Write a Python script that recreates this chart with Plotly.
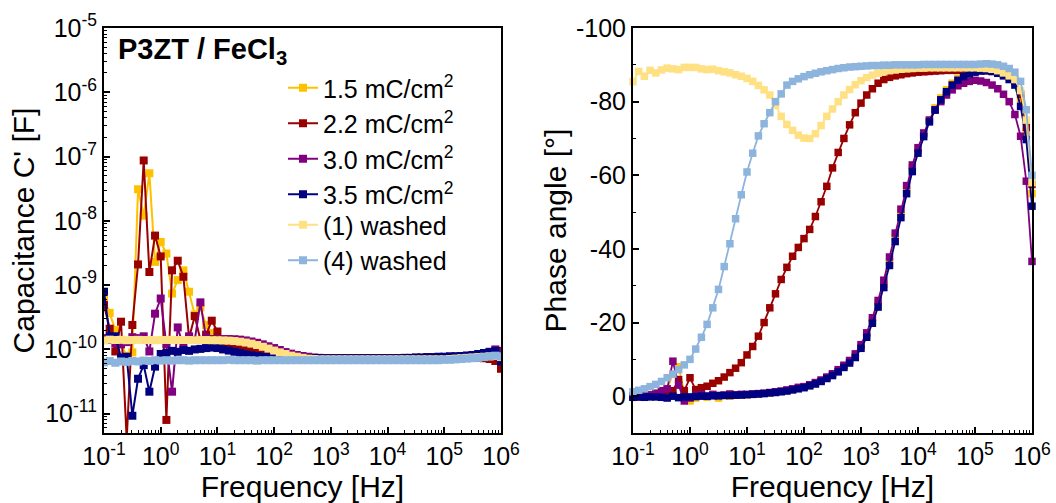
import plotly.graph_objects as go

# ---------------- data ----------------
# measurement grid: 10 points per decade, 0.1 Hz ... 1 MHz
MANTISSA = [1.0, 1.259, 1.585, 1.995, 2.512, 3.162, 3.981, 5.012, 6.310, 7.943]
DECADES = [-1, 0, 1, 2, 3, 4, 5]
FREQ = [m * 10.0 ** d for d in DECADES for m in MANTISSA] + [1.0e6]

SERIES = ["1.5 mC/cm<sup>2</sup>", "2.2 mC/cm<sup>2</sup>", "3.0 mC/cm<sup>2</sup>",
          "3.5 mC/cm<sup>2</sup>", "(1) washed", "(4) washed"]
COLORS = ["#FFC000", "#990000", "#800080", "#000080", "#FFE082", "#8DB4DC"]
LEGEND_OF = ["legend", "legend", "legend", "legend", "legend2", "legend2"]

# Capacitance C' [F]
CAP_15 = [6.0e-10, 3.7e-10, 2.0e-10, 1.2e-10, 8.0e-11, 9.0e-11, 3.1e-8, 1.2e-8, 5.5e-8, 2.3e-9,
          4.7e-9, 3.1e-9, 7.4e-10, 1.2e-9, 1.7e-9, 7.9e-10, 3.5e-10, 4.5e-10, 2.4e-10, 1.8e-10,
          1.5e-10, 1.25e-10, 1.15e-10, 1.1e-10, 1.05e-10, 1.0e-10, 9.5e-11, 9.0e-11, 8.5e-11, 8.1e-11,
          7.8e-11, 7.5e-11, 7.3e-11, 7.2e-11, 7.1e-11, 7.1e-11, 7.0e-11, 7.0e-11, 7.0e-11, 7.0e-11,
          7.0e-11, 7.0e-11, 7.0e-11, 7.0e-11, 7.0e-11, 7.0e-11, 7.0e-11, 7.0e-11, 7.0e-11, 7.0e-11,
          7.0e-11, 7.0e-11, 7.0e-11, 7.0e-11, 7.0e-11, 7.1e-11, 7.1e-11, 7.2e-11, 7.2e-11, 7.3e-11,
          7.3e-11, 7.4e-11, 7.5e-11, 7.6e-11, 7.7e-11, 7.8e-11, 7.9e-11, 8.0e-11, 8.2e-11, 8.4e-11,
          7.6e-11]
CAP_22 = [4.9e-10, 2.1e-10, 9.3e-11, 2.7e-10, 4.0e-12, 2.4e-10, 2.1e-9, 8.7e-8, 1.6e-9, 5.9e-9,
          2.8e-9, 8.0e-12, 1.7e-9, 2.4e-9, 1.35e-9, 1.5e-10, 3.3e-10, 1.4e-10, 1.7e-10, 2.8e-10,
          1.9e-10, 1.3e-10, 1.15e-10, 1.08e-10, 1.04e-10, 1.0e-10, 9.6e-11, 9.2e-11, 8.8e-11, 8.4e-11,
          8.0e-11, 7.7e-11, 7.5e-11, 7.3e-11, 7.2e-11, 7.1e-11, 7.1e-11, 7.0e-11, 7.0e-11, 7.0e-11,
          7.0e-11, 7.0e-11, 7.0e-11, 7.0e-11, 7.0e-11, 7.0e-11, 7.0e-11, 7.0e-11, 7.0e-11, 7.0e-11,
          7.0e-11, 7.0e-11, 7.0e-11, 7.0e-11, 7.0e-11, 7.0e-11, 7.1e-11, 7.1e-11, 7.2e-11, 7.2e-11,
          7.3e-11, 7.3e-11, 7.4e-11, 7.4e-11, 7.5e-11, 7.5e-11, 7.4e-11, 7.3e-11, 7.1e-11, 6.6e-11,
          5.0e-11]
CAP_30 = [1.5e-10, 1.4e-10, 1.25e-10, 1.2e-10, 1.3e-10, 1.55e-10, 1.5e-10, 1.6e-10, 9.3e-11, 3.6e-10,
          6.2e-10, 1.2e-10, 2.2e-11, 2.2e-10, 1.1e-10, 1.6e-10, 1.4e-10, 5.4e-10, 1.5e-10, 1.45e-10,
          1.45e-10, 1.45e-10, 1.45e-10, 1.44e-10, 1.42e-10, 1.38e-10, 1.33e-10, 1.27e-10, 1.2e-10, 1.12e-10,
          1.05e-10, 9.8e-11, 9.1e-11, 8.6e-11, 8.2e-11, 7.9e-11, 7.7e-11, 7.5e-11, 7.4e-11, 7.3e-11,
          7.3e-11, 7.3e-11, 7.3e-11, 7.3e-11, 7.3e-11, 7.3e-11, 7.3e-11, 7.3e-11, 7.3e-11, 7.3e-11,
          7.3e-11, 7.3e-11, 7.3e-11, 7.3e-11, 7.3e-11, 7.4e-11, 7.4e-11, 7.5e-11, 7.5e-11, 7.6e-11,
          7.6e-11, 7.7e-11, 7.8e-11, 7.9e-11, 8.0e-11, 8.2e-11, 8.4e-11, 8.7e-11, 9.2e-11, 1.0e-10,
          9.5e-11]
CAP_35 = [7.9e-10, 1.6e-10, 1.6e-10, 7.5e-11, 7.7e-11, 9.3e-12, 3.5e-11, 5.7e-11, 2.2e-11, 5.4e-11,
          8.5e-11, 8.8e-11, 9.5e-11, 9.2e-11, 9.8e-11, 9.5e-11, 1.0e-10, 1.02e-10, 1.05e-10, 1.07e-10,
          1.05e-10, 1.0e-10, 9.6e-11, 9.2e-11, 8.8e-11, 8.4e-11, 8.1e-11, 7.9e-11, 7.7e-11, 7.6e-11,
          7.5e-11, 7.4e-11, 7.4e-11, 7.3e-11, 7.3e-11, 7.3e-11, 7.3e-11, 7.3e-11, 7.3e-11, 7.3e-11,
          7.3e-11, 7.3e-11, 7.3e-11, 7.3e-11, 7.3e-11, 7.3e-11, 7.3e-11, 7.3e-11, 7.3e-11, 7.3e-11,
          7.3e-11, 7.3e-11, 7.3e-11, 7.4e-11, 7.4e-11, 7.5e-11, 7.5e-11, 7.6e-11, 7.6e-11, 7.7e-11,
          7.7e-11, 7.8e-11, 7.8e-11, 7.9e-11, 8.0e-11, 8.2e-11, 8.5e-11, 8.8e-11, 9.1e-11, 9.5e-11,
          6.5e-11]
CAP_W1 = [1.38e-10, 1.42e-10, 1.40e-10, 1.41e-10, 1.39e-10, 1.40e-10, 1.41e-10, 1.40e-10, 1.40e-10, 1.39e-10,
          1.40e-10, 1.40e-10, 1.41e-10, 1.40e-10, 1.40e-10, 1.40e-10, 1.39e-10, 1.40e-10, 1.40e-10, 1.39e-10,
          1.39e-10, 1.38e-10, 1.37e-10, 1.35e-10, 1.32e-10, 1.28e-10, 1.23e-10, 1.17e-10, 1.10e-10, 1.03e-10,
          9.6e-11, 9.0e-11, 8.5e-11, 8.0e-11, 7.7e-11, 7.4e-11, 7.2e-11, 7.1e-11, 7.0e-11, 7.0e-11,
          7.0e-11, 7.0e-11, 7.0e-11, 7.0e-11, 7.0e-11, 7.0e-11, 7.0e-11, 7.0e-11, 7.0e-11, 7.0e-11,
          7.0e-11, 7.0e-11, 7.0e-11, 7.0e-11, 7.0e-11, 7.0e-11, 7.0e-11, 7.0e-11, 7.0e-11, 7.0e-11,
          7.0e-11, 7.1e-11, 7.2e-11, 7.3e-11, 7.4e-11, 7.5e-11, 7.6e-11, 7.7e-11, 7.8e-11, 7.9e-11,
          7.6e-11]
CAP_W4 = [6.3e-11, 6.6e-11, 6.2e-11, 6.5e-11, 6.4e-11, 6.6e-11, 6.5e-11, 6.7e-11, 6.6e-11, 6.8e-11,
          6.7e-11, 6.8e-11, 6.7e-11, 6.8e-11, 6.8e-11, 6.7e-11, 6.8e-11, 6.8e-11, 6.8e-11, 6.8e-11,
          6.8e-11, 6.8e-11, 6.9e-11, 6.8e-11, 6.8e-11, 6.8e-11, 6.8e-11, 6.7e-11, 6.8e-11, 6.8e-11,
          6.8e-11, 6.8e-11, 6.8e-11, 6.8e-11, 6.8e-11, 6.8e-11, 6.8e-11, 6.8e-11, 6.8e-11, 6.8e-11,
          6.8e-11, 6.8e-11, 6.8e-11, 6.8e-11, 6.8e-11, 6.8e-11, 6.8e-11, 6.8e-11, 6.8e-11, 6.8e-11,
          6.8e-11, 6.8e-11, 6.8e-11, 6.8e-11, 6.8e-11, 6.8e-11, 6.8e-11, 6.8e-11, 6.8e-11, 6.8e-11,
          6.9e-11, 6.9e-11, 7.0e-11, 7.1e-11, 7.2e-11, 7.3e-11, 7.4e-11, 7.6e-11, 7.8e-11, 8.0e-11,
          7.8e-11]

# Phase angle [deg]
PH_15 = [0.2, 0.0, -0.2, -0.4, -0.7, -1.2, -2.0, -6.0, -8.0, -1.0,
         1.3, 0.5, -0.5, 0.3, -0.3, 0.5, -0.2, 0.0, -0.3, -0.4,
         -0.4, -0.5, -0.6, -0.8, -0.9, -1.1, -1.3, -1.5, -1.8, -2.2,
         -2.5, -3.0, -3.5, -4.2, -5.0, -5.9, -6.9, -8.1, -9.4, -11.0,
         -13.5, -16.6, -20.5, -25.0, -30.4, -36.5, -43.0, -49.6, -56.0, -62.0,
         -66.8, -71.2, -75.0, -78.3, -81.0, -83.2, -85.0, -86.3, -87.2, -87.8,
         -88.2, -88.5, -88.6, -88.5, -88.2, -87.6, -86.8, -85.2, -80.5, -71.5,
         -55.0]
PH_22 = [0.0, 0.0, -0.2, -0.3, -0.5, -0.6, -1.0, -1.5, -4.5, -1.5,
         -5.0, -1.8, -2.3, -2.7, -3.5, -4.2, -5.2, -6.4, -7.6, -9.1,
         -11.2, -13.5, -16.3, -20.0, -24.0, -27.8, -31.7, -35.0, -38.0, -40.4,
         -42.8, -45.3, -48.8, -52.8, -57.0, -62.0, -66.2, -70.0, -73.7, -77.0,
         -79.6, -81.8, -83.5, -85.0, -86.0, -86.6, -87.0, -87.3, -87.6, -87.8,
         -88.0, -88.1, -88.2, -88.3, -88.4, -88.5, -88.5, -88.5, -88.5, -88.5,
         -88.5, -88.5, -88.4, -88.2, -87.9, -87.4, -86.7, -85.5, -82.0, -73.0,
         -57.5]
PH_30 = [0.3, 0.2, 0.0, -0.3, -0.8, -1.5, -2.0, -9.5, -3.0, 1.3,
         0.5, -0.3, -0.5, 0.0, -0.5, -0.2, -0.3, -0.6, -0.3, -0.5,
         -0.5, -0.6, -0.7, -0.8, -1.0, -1.2, -1.4, -1.7, -2.0, -2.4,
         -2.6, -3.1, -3.7, -4.4, -5.2, -6.1, -7.2, -8.4, -9.7, -11.5,
         -14.0, -17.2, -21.3, -26.0, -31.5, -37.8, -44.3, -50.8, -57.2, -62.8,
         -67.5, -71.5, -75.0, -77.8, -80.0, -81.8, -83.2, -84.3, -85.0, -85.5,
         -85.8, -85.6, -85.2, -84.5, -83.5, -82.0, -80.0, -76.5, -70.6, -58.4,
         -36.6]
PH_35 = [0.3, 0.2, 0.3, 0.2, 0.2, 0.3, 0.5, 0.0, 0.4, 0.2,
         0.2, 0.1, 0.0, 0.0, -0.1, -0.1, -0.2, -0.2, -0.3, -0.3,
         -0.4, -0.5, -0.6, -0.7, -0.9, -1.0, -1.2, -1.4, -1.7, -2.0,
         -2.3, -2.8, -3.3, -4.0, -4.8, -5.6, -6.6, -7.8, -9.0, -10.5,
         -13.0, -16.0, -19.8, -24.2, -29.5, -35.5, -42.0, -48.5, -55.0, -61.0,
         -66.0, -70.5, -74.5, -77.7, -80.5, -82.7, -84.5, -85.8, -86.8, -87.5,
         -88.0, -88.3, -88.4, -88.2, -87.7, -87.0, -86.0, -84.5, -78.7, -69.7,
         -51.6]
PH_W1 = [-85.4, -88.2, -86.9, -88.5, -87.8, -88.6, -89.1, -88.9, -88.7, -89.3,
         -89.3, -89.3, -88.9, -88.7, -88.8, -88.4, -88.1, -87.8, -87.3, -86.9,
         -86.3, -85.5, -84.4, -83.2, -81.8, -79.0, -76.0, -73.8, -72.2, -70.9,
         -70.1, -70.0, -71.3, -73.5, -76.0, -78.0, -80.0, -81.8, -83.3, -84.6,
         -85.7, -86.5, -87.2, -87.7, -88.1, -88.4, -88.6, -88.8, -88.9, -89.0,
         -89.1, -89.1, -89.2, -89.2, -89.2, -89.2, -89.2, -89.2, -89.2, -89.2,
         -89.2, -89.1, -89.0, -88.8, -88.4, -87.8, -87.0, -86.0, -83.0, -75.0,
         -58.0]
PH_W4 = [-1.2, -1.6, -2.0, -2.6, -3.2, -4.0, -5.0, -6.0, -7.2, -8.5,
         -10.0, -12.8, -16.0, -19.5, -24.0, -29.0, -35.2, -41.4, -48.2, -54.7,
         -60.9, -66.0, -70.7, -74.0, -77.0, -80.0, -82.1, -84.5, -85.5, -86.2,
         -86.8, -87.3, -87.7, -88.1, -88.4, -88.7, -89.0, -89.2, -89.4, -89.5,
         -89.6, -89.7, -89.8, -89.8, -89.9, -89.9, -90.0, -90.0, -90.0, -90.0,
         -90.0, -90.1, -90.1, -90.1, -90.1, -90.1, -90.1, -90.1, -90.1, -90.1,
         -90.1, -90.2, -90.3, -90.2, -90.0, -89.6, -89.0, -88.0, -85.5, -77.8,
         -60.0]

CAPS = [CAP_15, CAP_22, CAP_30, CAP_35, CAP_W1, CAP_W4]
PHASES = [PH_15, PH_22, PH_30, PH_35, PH_W1, PH_W4]

X_TICKVALS = [1e-1, 1e0, 1e1, 1e2, 1e3, 1e4, 1e5, 1e6]
X_TICKTEXT = ["10<sup>-1</sup>", "10<sup>0</sup>", "10<sup>1</sup>", "10<sup>2</sup>",
              "10<sup>3</sup>", "10<sup>4</sup>", "10<sup>5</sup>", "10<sup>6</sup>"]
C_TICKVALS = [1e-11, 1e-10, 1e-9, 1e-8, 1e-7, 1e-6, 1e-5]
C_TICKTEXT = ["10<sup>-11</sup>", "10<sup>-10</sup>", "10<sup>-9</sup>", "10<sup>-8</sup>",
              "10<sup>-7</sup>", "10<sup>-6</sup>", "10<sup>-5</sup>"]
P_TICKVALS = [-100, -80, -60, -40, -20, 0]
P_TICKTEXT = ["-100", "-80", "-60", "-40", "-20", "0"]

# ---------------- figure ----------------
FONT = "Liberation Sans, Arial, sans-serif"
fig = go.Figure()

for name, col, cap, lg in zip(SERIES, COLORS, CAPS, LEGEND_OF):
    fig.add_trace(go.Scatter(
        x=FREQ, y=cap, name=name, mode="lines+markers",
        line=dict(color=col, width=2),
        marker=dict(symbol="square", size=8, color=col),
        xaxis="x", yaxis="y", showlegend=True, legend=lg))

for name, col, ph in zip(SERIES, COLORS, PHASES):
    fig.add_trace(go.Scatter(
        x=FREQ, y=ph, name=name, mode="lines+markers",
        line=dict(color=col, width=1.8),
        marker=dict(symbol="square", size=7.5, color=col),
        xaxis="x2", yaxis="y2", showlegend=False, cliponaxis=False))

W_PLOT = 1056 - 104 - 24
common = dict(showgrid=False, zeroline=False, showline=True, linecolor="black",
              linewidth=2, mirror=True, ticks="inside", ticklen=6, tickwidth=1.5,
              tickcolor="black", automargin=False,
              tickfont=dict(family=FONT, size=25, color="black"))
legend_style = dict(xanchor="left", yanchor="top", bgcolor="rgba(0,0,0,0)",
                    font=dict(family=FONT, size=25, color="black"),
                    tracegroupgap=0, itemwidth=30)

fig.update_layout(
    template="none",
    width=1056, height=503,
    margin=dict(l=104, r=24, t=28, b=70, autoexpand=False),
    paper_bgcolor="white", plot_bgcolor="white",
    font=dict(family=FONT, color="black"),
    xaxis=dict(type="log", range=[-1, 6], domain=[0, 397 / W_PLOT], anchor="y",
               tickvals=X_TICKVALS, ticktext=X_TICKTEXT,
               minor=dict(ticks="inside", ticklen=3, tickwidth=1.2, tickcolor="black", dtick="D1"),
               title=dict(text="Frequency [Hz]", font=dict(family=FONT, size=30), standoff=0),
               **common),
    yaxis=dict(type="log", range=[-11.3, -5], anchor="x",
               tickvals=C_TICKVALS, ticktext=C_TICKTEXT,
               minor=dict(ticks="inside", ticklen=3, tickwidth=1.2, tickcolor="black", dtick="D1"),
               title=dict(text="Capacitance C' [F]", font=dict(family=FONT, size=30), standoff=0),
               **common),
    xaxis2=dict(type="log", range=[-1, 6], domain=[529 / W_PLOT, 1], anchor="y2",
                tickvals=X_TICKVALS, ticktext=X_TICKTEXT,
                minor=dict(ticks="inside", ticklen=3, tickwidth=1.2, tickcolor="black", dtick="D1"),
                title=dict(text="Frequency [Hz]", font=dict(family=FONT, size=30), standoff=0),
                **common),
    yaxis2=dict(range=[10, -100], anchor="x2",
                tickvals=P_TICKVALS, ticktext=P_TICKTEXT,
                minor=dict(ticks="inside", ticklen=3, tickwidth=1.2, tickcolor="black", dtick=10),
                title=dict(text="Phase angle [°]", font=dict(family=FONT, size=30), standoff=0),
                **common),
    legend=dict(x=(283 - 104) / W_PLOT, y=(433 - 65) / 405, **legend_style),
    legend2=dict(x=(283 - 104) / W_PLOT, y=(433 - 202) / 405, **legend_style),
    annotations=[dict(text="<b>P3ZT / FeCl<sub>3</sub></b>", xref="paper", yref="paper",
                      x=(116 - 104) / W_PLOT, y=(433 - 51) / 405, xanchor="left", yanchor="middle",
                      showarrow=False, font=dict(family=FONT, size=29, color="black"))],
)

fig.write_html("out.html")
